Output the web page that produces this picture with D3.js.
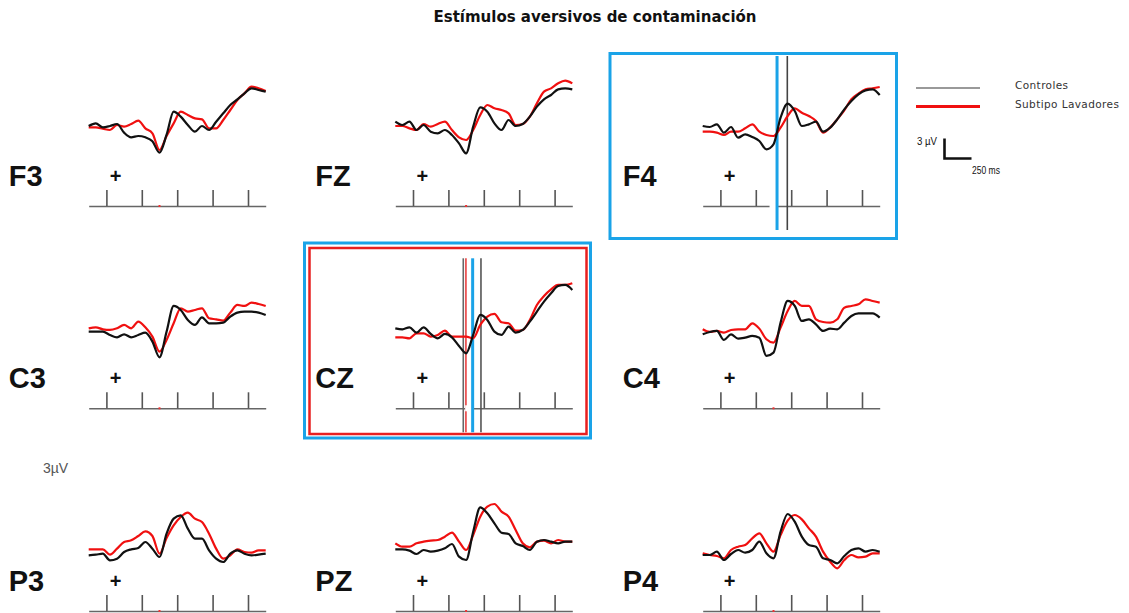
<!DOCTYPE html>
<html>
<head>
<meta charset="utf-8">
<script src="https://cdn.jsdelivr.net/npm/d3@7/dist/d3.min.js"></script>
<style>
  html, body { margin: 0; padding: 0; background: #fff; }
  svg { display: block; }
</style>
</head>
<body>
<svg id="chart" width="1129" height="613"></svg>
<script>
// Grand-average ERPs (µV) per electrode, sampled every 40 ms
const times = [-100, -60, -20, 20, 60, 100, 140, 180, 220, 260, 300, 340, 380,
               420, 460, 500, 540, 580, 620, 660, 700, 740, 780, 820, 860, 900];
const timeTicks = [0, 200, 400, 600, 800];
const channels = ["F3", "FZ", "F4", "C3", "CZ", "C4", "P3", "PZ", "P4"];
const groupNames = ["Controles", "Subtipo Lavadores"];

const ctrlF3 = [0, 0.4, -0.2, 0, 0.3, -1.0, -1.7, -1.5, -1.7, -2.3, -4.0, -1.3, 2.15,
                1.4, 0.15, -0.85, 0, -0.6, 0.65, 1.9, 3.15, 4.0, 4.9, 5.65, 5.4, 5.15];
const lavF3  = [-0.2, -0.2, -0.4, -0.6, 0.15, -0.1, 0.3, 0.8, -0.35, -1.1, -3.6, -1.5, 0.4,
                2.15, 1.65, 1.15, 1.0, -0.35, -0.35, 0.9, 2.4, 3.9, 4.9, 5.9, 5.65, 5.25];

const ctrlFZ = [0.65, 0.15, 0.65, -0.6, 0.15, -0.85, -1.1, -0.6, -1.35, -2.6, -4.1, -0.1, 2.8,
                2.15, 0.4, -0.6, 0.9, 0, 0.3, 1.4, 2.9, 4.0, 4.65, 5.5, 5.65, 5.5];
const lavFZ  = [0, 0, -0.35, -0.6, 0.3, -0.1, 0.3, 0.65, -0.6, -1.7, -2.1, -0.6, 1.65,
                3.15, 2.65, 2.4, 1.9, 0.15, 0.3, 1.4, 3.4, 5.15, 5.65, 6.4, 6.8, 6.4];

const ctrlF4 = [0, -0.15, 0.25, -1.0, -0.15, -1.75, -1.25, -1.65, -2.25, -3.5, -2.75, 1.25, 3.35,
                2.25, 0, 0.25, 0.65, -0.85, -0.25, 1.0, 2.5, 3.75, 4.75, 5.35, 5.5, 4.65];
const lavF4  = [-0.85, -0.85, -1.0, -1.35, -0.85, -0.85, -0.35, 0.25, -0.85, -1.35, -1.5, -0.25, 1.5,
                2.65, 2.0, 1.5, 0.75, -1.0, -0.25, 1.0, 2.35, 4.0, 4.85, 5.5, 5.65, 5.85];

const ctrlC3 = [-0.5, -0.5, -0.5, -1.0, -1.35, -0.9, -1.35, -1.0, -0.65, -2.0, -4.35, -0.5, 3.35,
                2.75, 1.25, 0.5, 1.65, 0.75, 0.75, 0.85, 1.75, 2.35, 2.5, 2.5, 2.35, 2.0];
const lavC3  = [0, 0.15, -0.15, -0.25, 0, 0.5, 0, 1.0, 0.15, -1.25, -3.5, -1.75, 0.75,
                3.0, 2.5, 2.75, 3.0, 1.5, 1.35, 1.15, 2.35, 3.5, 3.35, 3.85, 3.65, 3.35];

const ctrlCZ = [0, -0.15, 0.15, -0.65, 0.15, -0.85, -1.5, -0.85, -1.35, -2.65, -3.75, -1.0, 2.0,
                1.25, -0.5, -1.0, 0.25, -0.65, -0.25, 1.0, 2.5, 4.0, 5.25, 6.35, 6.5, 5.75];
const lavCZ  = [-1.35, -1.35, -1.5, -0.75, -0.75, -1.25, -1.0, -0.35, -1.25, -1.25, -1.25, -1.5, 0.5,
                1.75, 2.15, 0.9, 0.75, -0.35, -0.25, 1.25, 3.5, 4.85, 5.85, 6.5, 6.5, 6.75];

const ctrlC4 = [-0.9, -0.55, -0.4, -1.75, -0.9, -1.55, -1.4, -1.15, -1.4, -4.15, -3.65, 0.85, 4.1,
                3.35, 1.1, 1.35, 0.6, -0.4, -0.05, -0.15, 0.85, 1.85, 2.25, 2.25, 2.25, 1.6];
const lavC4  = [-0.15, -0.55, -0.4, -0.65, -0.25, -0.15, -0.15, 0.75, -0.05, -1.65, -2.15, 0.1, 2.6,
                4.1, 3.35, 3.35, 1.35, 0.95, 0.85, 1.35, 3.1, 3.35, 3.6, 4.35, 4.1, 3.85];

const ctrlP3 = [-0.05, 0.05, 0.2, -0.8, -0.55, 0.45, 0.85, 1.05, 1.95, 0.95, -0.3, 3.2, 5.45,
                5.95, 3.95, 2.45, 2.45, 0.7, -0.55, -1.05, 0.2, 0.7, 0.2, -0.05, 0.05, 0.2];
const lavP3  = [0.85, 0.85, 0.85, 0.05, 0.95, 1.95, 2.2, 2.85, 3.55, 2.85, 0.2, 2.55, 4.45,
                5.7, 6.35, 5.45, 4.95, 3.2, 0.95, -0.55, -0.05, 0.85, 0.45, 0.35, 0.7, 0.7];

const ctrlPZ = [0.85, 0.85, 0.65, 0.15, 0.75, 0.5, 0.65, 1.0, 1.65, -0.25, -0.75, 3.5, 7.15,
                6.25, 4.75, 3.35, 3.15, 1.75, 1.35, 0.75, 2.0, 2.25, 2.0, 1.75, 2.0, 2.0];
const lavPZ  = [1.75, 1.25, 1.25, 1.75, 2.0, 2.15, 2.25, 2.75, 3.35, 2.0, 0.75, 3.0, 5.75,
                7.25, 7.65, 6.5, 5.75, 3.75, 1.75, 1.15, 2.0, 2.15, 1.75, 2.25, 2.0, 2.0];

const ctrlP4 = [0, 0, 0.5, -0.75, 0.15, 0.75, 0.35, 0.75, 2.0, 0.25, -0.5, 3.5, 6.15,
                5.0, 2.75, 1.5, 1.25, -0.5, -0.75, -1.25, -0.15, 0.75, 1.0, 0.5, 0.75, 0.5];
const lavP4  = [0.25, 0, -0.15, -0.5, 0.75, 1.25, 1.5, 2.5, 3.25, 1.75, 0.5, 3.0, 5.15,
                6.0, 5.35, 4.0, 2.75, 0.5, -1.0, -2.0, -0.75, 0, -0.35, -0.25, 0.25, 0.25];

// Latency cursors (ms) on the highlighted electrodes
const cursorsF4 = [320, 378];
const cursorColorsF4 = ["#1aa3e8", "#444"];
const cursorsCZ = [284, 299, 337, 384];
const cursorColorsCZ = ["#666", "#e84040", "#1aa3e8", "#555"];

// Calibration bar values
const calibAmp = 3;      // µV
const calibTime = 250;   // ms

const controlSeries = [ctrlF3, ctrlFZ, ctrlF4, ctrlC3, ctrlCZ, ctrlC4, ctrlP3, ctrlPZ, ctrlP4];
const washerSeries  = [lavF3, lavFZ, lavF4, lavC3, lavCZ, lavC4, lavP3, lavPZ, lavP4];

const panels = channels.map((ch, i) => ({
  ch, row: Math.floor(i / 3), col: i % 3,
  ctrl: controlSeries[i], lav: washerSeries[i]
}));

// ---------- layout ----------
const svg = d3.select("#chart");
const colX = [88.7, 395.3, 702.7];
const rowAxisY = [206, 408.3, 611];
const zeroOffset = [80, 80, 56];   // distance of the 0 µV level above the time axis
const axisLen = 177;
const pxPerUV = 20 / 3;

const COLOR_CTRL = "#111";
const COLOR_LAV = "#f01010";
const BLUE = "#1aa3e8";

// Title
svg.append("text")
  .attr("x", 595).attr("y", 22)
  .attr("text-anchor", "middle")
  .attr("font-family", "'DejaVu Sans', sans-serif")
  .attr("font-weight", "bold")
  .attr("font-size", 15)
  .attr("fill", "#111")
  .text("Estímulos aversivos de contaminación");

// Highlight frames
svg.append("rect").attr("x", 610).attr("y", 53.5).attr("width", 286.5).attr("height", 185)
  .attr("fill", "none").attr("stroke", BLUE).attr("stroke-width", 3);
svg.append("rect").attr("x", 304.5).attr("y", 243).attr("width", 286).attr("height", 195)
  .attr("fill", "none").attr("stroke", BLUE).attr("stroke-width", 3);
svg.append("rect").attr("x", 309.5).attr("y", 248).attr("width", 277).attr("height", 186)
  .attr("fill", "none").attr("stroke", "#e82020").attr("stroke-width", 2.5);

panels.forEach(p => {
  const x0 = colX[p.col];
  const ay = rowAxisY[p.row];
  const zeroY = ay - zeroOffset[p.row];

  const x = d3.scaleLinear().domain([-100, 900]).range([x0, x0 + axisLen]);
  const y = d3.scaleLinear().domain([-1, 1]).range([zeroY + pxPerUV, zeroY - pxPerUV]);

  const g = svg.append("g");

  // electrode label
  g.append("text")
    .attr("x", x0 - 80).attr("y", ay - 20)
    .attr("font-family", "'Liberation Sans', Arial, sans-serif")
    .attr("font-weight", "bold").attr("font-size", 29)
    .attr("fill", "#111")
    .text(p.ch);

  // polarity mark
  g.append("text")
    .attr("x", x0 + 27).attr("y", ay - 23)
    .attr("text-anchor", "middle")
    .attr("font-family", "'Liberation Sans', Arial, sans-serif")
    .attr("font-weight", "bold").attr("font-size", 20)
    .attr("fill", "#111")
    .text("+");

  // time axis: baseline with upward ticks
  const axis = d3.axisTop(x).tickValues(timeTicks).tickSize(16).tickFormat("").tickSizeOuter(0);
  const ag = g.append("g").attr("transform", `translate(0,${ay})`).call(axis);
  ag.select(".domain").attr("stroke", "#666").attr("stroke-width", 1.6);
  ag.selectAll(".tick line").attr("stroke", "#555").attr("stroke-width", 1.6);

  // small onset mark on the axis
  g.append("rect").attr("x", x(300) - 1).attr("y", ay - 1).attr("width", 2).attr("height", 2)
    .attr("fill", "#e33");

  // cursors
  let cur = null, curCol = null;
  if (p.ch === "F4") { cur = cursorsF4; curCol = cursorColorsF4; }
  if (p.ch === "CZ") { cur = cursorsCZ; curCol = cursorColorsCZ; }
  if (cur) {
    cur.forEach((t, k) => {
      const isBlue = curCol[k] === BLUE;
      if (isBlue) {
        g.append("line").attr("x1", x(t) - 4).attr("x2", x(t) - 4)
          .attr("y1", ay - 3).attr("y2", ay + 3)
          .attr("stroke", "#fff").attr("stroke-width", 7);
      }
      g.append("line")
        .attr("x1", x(t)).attr("x2", x(t))
        .attr("y1", ay - 150).attr("y2", ay + 24)
        .attr("stroke", curCol[k])
        .attr("stroke-width", isBlue ? 3 : 1.6);
    });
  }

  const line = d3.line()
    .x((d, i) => x(times[i]))
    .y(d => y(d))
    .curve(d3.curveMonotoneX);

  g.append("path").datum(p.lav)
    .attr("d", line).attr("fill", "none")
    .attr("stroke", COLOR_LAV).attr("stroke-width", 2.2).attr("stroke-linejoin", "round");
  g.append("path").datum(p.ctrl)
    .attr("d", line).attr("fill", "none")
    .attr("stroke", COLOR_CTRL).attr("stroke-width", 2.2).attr("stroke-linejoin", "round");
});

// Legend
const legend = svg.append("g");
const legendColors = ["#999", "#f01010"];
const legendWidths = [2, 3];
groupNames.forEach((name, i) => {
  const ly = 88 + i * 18.5;
  legend.append("line").attr("x1", 916).attr("x2", 980).attr("y1", ly).attr("y2", ly)
    .attr("stroke", legendColors[i]).attr("stroke-width", legendWidths[i]);
  legend.append("text").attr("x", 1015).attr("y", ly + 1)
    .attr("font-family", "'DejaVu Sans', sans-serif")
    .attr("font-size", 10.5).attr("fill", "#333")
    .attr("letter-spacing", 0.4)
    .text(name);
});

// Calibration bar
const calX = 944.5, calY = 158.5;
const calH = calibAmp * pxPerUV;
const calW = 27;
legend.append("path")
  .attr("d", `M${calX},${calY - calH}V${calY}H${calX + calW}`)
  .attr("fill", "none").attr("stroke", "#111").attr("stroke-width", 2.6);
legend.append("text").attr("x", 917).attr("y", 145)
  .attr("font-family", "'Liberation Sans Narrow', 'Liberation Sans', sans-serif")
  .attr("font-size", 10).attr("fill", "#111")
  .attr("textLength", 20).attr("lengthAdjust", "spacingAndGlyphs")
  .text(`${calibAmp} µV`);
legend.append("text").attr("x", 972).attr("y", 174)
  .attr("font-family", "'Liberation Sans Narrow', 'Liberation Sans', sans-serif")
  .attr("font-size", 10).attr("fill", "#111")
  .attr("textLength", 28).attr("lengthAdjust", "spacingAndGlyphs")
  .text(`${calibTime} ms`);

// Stray amplitude note
svg.append("text").attr("x", 43).attr("y", 473)
  .attr("font-family", "'Liberation Sans', Arial, sans-serif")
  .attr("font-size", 14).attr("fill", "#555")
  .text("3µV");
</script>
</body>
</html>
